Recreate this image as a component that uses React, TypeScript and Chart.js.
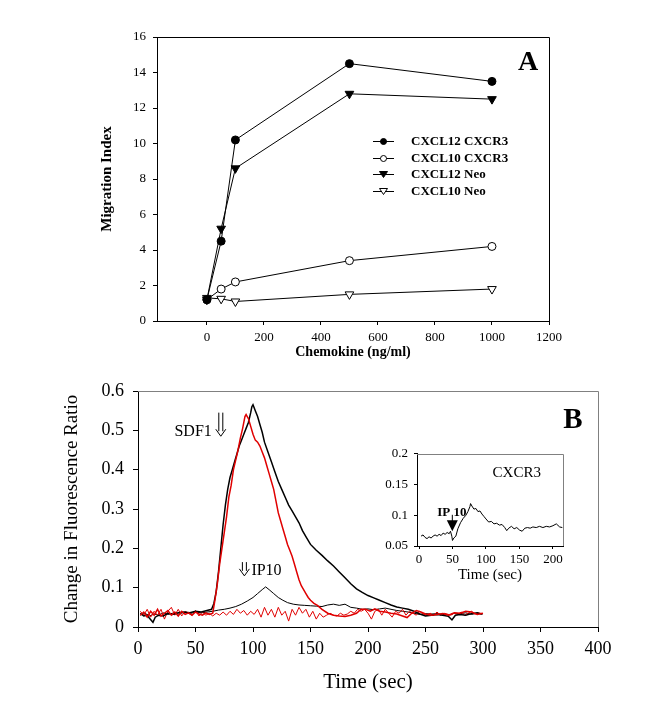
import { useEffect, useRef } from "react";
import { Chart, registerables } from "chart.js";
Chart.register(...registerables);

const FONT = "'Liberation Serif', 'Times New Roman', serif";

// ---------- Panel A ----------
const concentrations = [0, 50, 100, 500, 1000];
const cxcl12Cxcr3 = [1.2, 4.5, 10.2, 14.5, 13.5];
const cxcl10Cxcr3 = [1.2, 1.8, 2.2, 3.4, 4.2];
const cxcl12Neo = [1.2, 5.2, 8.6, 12.8, 12.5];
const cxcl10Neo = [1.3, 1.25, 1.1, 1.5, 1.8];
const legendLabelsA = ["CXCL12 CXCR3", "CXCL10 CXCR3", "CXCL12 Neo", "CXCL10 Neo"];
const xTicksA = [0, 200, 400, 600, 800, 1000, 1200];

// ---------- Panel B ----------
const sdf1BlackT = [2, 5, 8, 10, 13, 15, 18, 22, 26, 30, 35, 40, 45, 50, 55, 60, 64, 66, 68, 70, 72, 74, 76, 78, 80, 82, 84, 86, 88, 90, 92, 94, 96, 98, 99, 100, 102, 104, 106, 108, 110, 113, 116, 119, 122, 125, 128, 131, 134, 137, 140, 143, 146, 150, 155, 160, 165, 170, 175, 180, 185, 190, 195, 200, 205, 210, 215, 220, 225, 230, 235, 240, 245, 250, 255, 260, 265, 270, 273, 276, 280, 285, 290, 295, 299];
const sdf1BlackV = [0.035, 0.028, 0.03, 0.022, 0.012, 0.025, 0.03, 0.028, 0.035, 0.032, 0.036, 0.038, 0.036, 0.04, 0.038, 0.042, 0.045, 0.06, 0.09, 0.14, 0.2, 0.26, 0.31, 0.35, 0.38, 0.4, 0.42, 0.44, 0.46, 0.475, 0.49, 0.505, 0.52, 0.545, 0.56, 0.565, 0.55, 0.535, 0.515, 0.495, 0.47, 0.445, 0.42, 0.395, 0.37, 0.35, 0.33, 0.31, 0.295, 0.28, 0.265, 0.245, 0.23, 0.21, 0.195, 0.182, 0.168, 0.155, 0.14, 0.125, 0.11, 0.097, 0.088, 0.08, 0.074, 0.068, 0.062, 0.056, 0.051, 0.048, 0.045, 0.04, 0.033, 0.028, 0.03, 0.032, 0.03, 0.027, 0.018, 0.03, 0.032, 0.03, 0.034, 0.036, 0.032];

const sdf1RedT = [2, 5, 8, 11, 14, 17, 20, 23, 26, 29, 32, 35, 38, 41, 44, 47, 50, 53, 56, 59, 62, 65, 67, 69, 71, 73, 75, 77, 79, 81, 83, 85, 87, 89, 91, 93, 94, 95, 96, 98, 100, 102, 104, 106, 108, 110, 112, 114, 116, 118, 120, 122, 124, 126, 128, 130, 132, 134, 136, 138, 140, 142, 144, 146, 148, 150, 153, 156, 160, 165, 170, 175, 180, 185, 190, 194, 198, 202, 206, 210, 215, 220, 225, 230, 234, 238, 242, 246, 250, 255, 260, 265, 270, 275, 280, 285, 290, 295, 300];
const sdf1RedV = [0.03, 0.038, 0.025, 0.04, 0.03, 0.045, 0.028, 0.035, 0.042, 0.03, 0.038, 0.028, 0.04, 0.032, 0.036, 0.03, 0.038, 0.033, 0.03, 0.036, 0.032, 0.035, 0.07, 0.11, 0.16, 0.2, 0.24, 0.28, 0.33, 0.36, 0.4, 0.425, 0.45, 0.48, 0.505, 0.535, 0.54, 0.535, 0.53, 0.51, 0.49, 0.475, 0.47, 0.46, 0.445, 0.43, 0.41, 0.39, 0.37, 0.35, 0.32, 0.29, 0.27, 0.25, 0.23, 0.21, 0.195, 0.18, 0.16, 0.14, 0.12, 0.105, 0.095, 0.085, 0.075, 0.068, 0.06, 0.055, 0.045, 0.035, 0.03, 0.028, 0.027, 0.03, 0.035, 0.045, 0.045, 0.04, 0.046, 0.04, 0.038, 0.035, 0.033, 0.028, 0.024, 0.035, 0.042, 0.038, 0.033, 0.03, 0.032, 0.034, 0.03, 0.036, 0.035, 0.04, 0.038, 0.032, 0.035];

const ip10BlackT = [2, 6, 10, 14, 18, 22, 26, 30, 35, 40, 45, 50, 55, 60, 65, 70, 75, 80, 85, 90, 95, 100, 104, 108, 111, 114, 118, 122, 126, 130, 135, 140, 145, 150, 155, 160, 165, 170, 175, 180, 185, 190, 195, 200, 205, 210, 215, 220, 225, 230, 235, 240, 245, 250, 255, 260, 265, 270, 275, 280, 285, 290, 295, 300];
const ip10BlackV = [0.03, 0.035, 0.028, 0.033, 0.03, 0.036, 0.032, 0.035, 0.033, 0.037, 0.034, 0.038, 0.036, 0.038, 0.04, 0.043, 0.045, 0.048, 0.052, 0.058, 0.066, 0.075, 0.085, 0.095, 0.102, 0.095, 0.085, 0.075, 0.068, 0.062, 0.058, 0.056, 0.055, 0.054, 0.053, 0.052, 0.056, 0.058, 0.055, 0.058, 0.05, 0.048, 0.045, 0.046, 0.044, 0.046, 0.048, 0.045, 0.042, 0.04, 0.038, 0.035, 0.032, 0.034, 0.033, 0.034, 0.032, 0.03, 0.035, 0.034, 0.036, 0.032, 0.035, 0.033];

const ip10RedT = [2, 5, 8, 11, 14, 17, 20, 23, 26, 29, 32, 35, 38, 41, 44, 47, 50, 53, 56, 59, 62, 65, 68, 71, 74, 77, 80, 83, 86, 89, 92, 95, 98, 101, 104, 107, 110, 113, 116, 119, 122, 125, 128, 131, 134, 137, 140, 143, 146, 149, 152, 155, 158, 161, 164, 167, 170, 173, 176, 179, 182, 185, 188, 191, 194, 197, 200, 203, 206, 209, 212, 215, 218, 221, 224, 227, 230, 233, 236, 239, 242, 245, 248, 251, 254, 257, 260, 263, 266, 269, 272, 275, 278, 281, 284, 287, 290, 293, 296, 300];
const ip10RedV = [0.04, 0.03, 0.045, 0.025, 0.04, 0.03, 0.045, 0.02, 0.04, 0.05, 0.03, 0.045, 0.028, 0.04, 0.035, 0.03, 0.042, 0.028, 0.038, 0.03, 0.035, 0.028, 0.035, 0.03, 0.038, 0.03, 0.04, 0.032, 0.045, 0.035, 0.042, 0.03, 0.04, 0.032, 0.045, 0.025, 0.05, 0.03, 0.045, 0.025, 0.05, 0.03, 0.04, 0.015, 0.045, 0.03, 0.05, 0.035, 0.045, 0.025, 0.04, 0.02, 0.035, 0.025, 0.03, 0.035, 0.03, 0.028, 0.035, 0.03, 0.033, 0.04, 0.035, 0.045, 0.04, 0.045, 0.035, 0.02, 0.04, 0.045, 0.03, 0.045, 0.035, 0.025, 0.04, 0.035, 0.045, 0.03, 0.04, 0.035, 0.03, 0.04, 0.033, 0.03, 0.035, 0.03, 0.038, 0.03, 0.035, 0.033, 0.03, 0.035, 0.032, 0.038, 0.03, 0.035, 0.04, 0.033, 0.036, 0.034];

const sdf1Arrow = { t: 72, top: 0.545, bottom: 0.485 };
const ip10Arrow = { t: 92.5, top: 0.165, bottom: 0.13 };

// ---------- Inset ----------
const insetT = [3, 6, 9, 12, 15, 18, 21, 24, 27, 30, 33, 36, 39, 42, 45, 47, 49, 50, 52, 55, 58, 62, 66, 70, 73, 76, 77, 79, 82, 85, 88, 91, 94, 97, 100, 104, 108, 112, 116, 120, 124, 128, 131, 134, 138, 142, 146, 150, 154, 158, 162, 166, 170, 175, 180, 185, 190, 195, 200, 205, 210, 214];
const insetV = [0.066, 0.068, 0.064, 0.062, 0.065, 0.063, 0.066, 0.068, 0.066, 0.069, 0.067, 0.071, 0.069, 0.072, 0.07, 0.074, 0.066, 0.059, 0.063, 0.066, 0.078, 0.088, 0.095, 0.1, 0.106, 0.114, 0.119, 0.115, 0.11, 0.111, 0.106, 0.107, 0.102, 0.098, 0.094, 0.089, 0.09, 0.086, 0.087, 0.084, 0.085, 0.08, 0.075, 0.079, 0.082, 0.078, 0.08, 0.076, 0.074, 0.079, 0.08, 0.079, 0.081, 0.08, 0.082, 0.08, 0.082, 0.081, 0.083, 0.086, 0.081, 0.08];
const insetXTicks = [0, 50, 100, 150, 200];
const insetYTicks = [0.05, 0.1, 0.15, 0.2];
const insetArrow = { t: 49, y: 0.0836, labelY: 0.104 };

const zip = (xs: number[], ys: number[]) => xs.map((x, i) => ({ x, y: ys[i] }));

const axisCommon = (fontSize: number, tickLen: number, pad: number) => ({
  grid: { drawOnChartArea: false, drawTicks: true, tickLength: tickLen, color: "#000", lineWidth: 1 },
  border: { display: true, color: "#000", width: 1 },
  ticks: { color: "#000", font: { family: FONT, size: fontSize }, padding: pad, maxRotation: 0, autoSkip: false },
});

const framePlugin = (color: string) => ({
  id: "frame",
  beforeDatasetsDraw(chart: any) {
    const { ctx, chartArea } = chart;
    const { left, top, right, bottom } = chartArea;
    ctx.save();
    ctx.strokeStyle = color;
    ctx.lineWidth = 1;
    ctx.beginPath();
    ctx.moveTo(left, Math.round(top) + 0.5);
    ctx.lineTo(Math.round(right) + 0.5, Math.round(top) + 0.5);
    ctx.lineTo(Math.round(right) + 0.5, bottom);
    ctx.stroke();
    ctx.restore();
  },
});

function drawMarker(ctx: CanvasRenderingContext2D, style: string, x: number, y: number, r: number, fill: string) {
  ctx.save();
  ctx.beginPath();
  if (style === "circle") {
    ctx.arc(x, y, r, 0, Math.PI * 2);
  } else {
    const h = r * 1.5;
    ctx.moveTo(x - r, y - h / 2);
    ctx.lineTo(x + r, y - h / 2);
    ctx.lineTo(x, y + h / 2);
    ctx.closePath();
  }
  ctx.fillStyle = fill;
  ctx.fill();
  ctx.strokeStyle = "#000";
  ctx.lineWidth = 1;
  ctx.stroke();
  ctx.restore();
}

function makeA(canvas: HTMLCanvasElement) {
  const styles = [
    { style: "circle", fill: "#000", rot: 0 },
    { style: "circle", fill: "#fff", rot: 0 },
    { style: "triangle", fill: "#000", rot: 180 },
    { style: "triangle", fill: "#fff", rot: 180 },
  ];
  const values = [cxcl12Cxcr3, cxcl10Cxcr3, cxcl12Neo, cxcl10Neo];
  const datasets = values.map((v, i) => ({
    label: legendLabelsA[i],
    data: zip(concentrations, v),
    borderColor: "#000",
    borderWidth: 1,
    pointStyle: styles[i].style,
    pointRotation: styles[i].rot,
    pointRadius: styles[i].style === "circle" ? 4 : 5,
    pointBackgroundColor: styles[i].fill,
    pointBorderColor: "#000",
    pointBorderWidth: 1,
    tension: 0,
  }));
  const legendPlugin = {
    id: "legendA",
    afterDraw(chart: any) {
      const { ctx, chartArea } = chart;
      const x0 = chartArea.left + 216;
      const y0 = chartArea.top + 104;
      ctx.save();
      ctx.font = `bold 13px ${FONT}`;
      ctx.textBaseline = "middle";
      ctx.fillStyle = "#000";
      legendLabelsA.forEach((lab, i) => {
        const y = y0 + i * 16.5;
        ctx.strokeStyle = "#000";
        ctx.lineWidth = 1;
        ctx.beginPath();
        ctx.moveTo(x0, Math.round(y) + 0.5);
        ctx.lineTo(x0 + 21, Math.round(y) + 0.5);
        ctx.stroke();
        drawMarker(ctx, styles[i].style, x0 + 10.5, Math.round(y) + 0.5, styles[i].style === "circle" ? 3 : 4, styles[i].fill);
        ctx.fillText(lab, x0 + 38, y + 1);
      });
      ctx.font = `bold 28px ${FONT}`;
      ctx.textAlign = "center";
      ctx.fillText("A", chartArea.right - 21, chartArea.top + 26);
      ctx.restore();
    },
  };
  return new Chart(canvas, {
    type: "line",
    data: { datasets: datasets as any },
    options: {
      responsive: false,
      animation: false,
      layout: { padding: { left: 0, top: 37, right: 112, bottom: 0 } },
      plugins: { legend: { display: false }, tooltip: { enabled: false } },
      scales: {
        x: {
          type: "linear",
          min: -175,
          max: 1200,
          ...axisCommon(13, 4, 5),
          ticks: { ...axisCommon(13, 4, 5).ticks, callback: (v: any) => String(v) },
          afterBuildTicks: (s: any) => { s.ticks = xTicksA.map((v) => ({ value: v })); },
          afterFit: (s: any) => { s.height = 49; },
          title: { display: true, text: "Chemokine (ng/ml)", color: "#000", font: { family: FONT, size: 14, weight: "bold" }, padding: { top: 0, bottom: 9 } },
        },
        y: {
          type: "linear",
          min: 0,
          max: 16,
          ...axisCommon(13, 4, 7),
          ticks: { ...axisCommon(13, 4, 7).ticks, stepSize: 2 },
          afterFit: (s: any) => { s.width = 157; },
          title: { display: true, text: "Migration Index", color: "#000", font: { family: FONT, size: 15, weight: "bold" }, padding: { top: 98, bottom: 0 } },
        },
      },
    } as any,
    plugins: [framePlugin("#000"), legendPlugin],
  });
}

function drawDoubleArrow(ctx: CanvasRenderingContext2D, x: number, yTop: number, yBot: number) {
  ctx.save();
  ctx.strokeStyle = "#000";
  ctx.lineWidth = 1;
  ctx.beginPath();
  ctx.moveTo(x - 2, yTop);
  ctx.lineTo(x - 2, yBot - 5);
  ctx.moveTo(x + 2, yTop);
  ctx.lineTo(x + 2, yBot - 5);
  ctx.moveTo(x - 5, yBot - 7);
  ctx.lineTo(x, yBot);
  ctx.lineTo(x + 5, yBot - 7);
  ctx.stroke();
  ctx.restore();
}

function makeB(canvas: HTMLCanvasElement) {
  const ds = (label: string, t: number[], v: number[], color: string, w: number) => ({
    label, data: zip(t, v), borderColor: color, borderWidth: w, pointRadius: 0, tension: 0, fill: false,
  });
  const annot = {
    id: "annotB",
    afterDraw(chart: any) {
      const { ctx, scales, chartArea } = chart;
      const xs = scales.x, ys = scales.y;
      ctx.save();
      ctx.fillStyle = "#000";
      ctx.font = `16px ${FONT}`;
      ctx.textBaseline = "middle";
      const ax = xs.getPixelForValue(sdf1Arrow.t);
      drawDoubleArrow(ctx, ax, ys.getPixelForValue(sdf1Arrow.top), ys.getPixelForValue(sdf1Arrow.bottom));
      ctx.textAlign = "right";
      ctx.fillText("SDF1", ax - 9, ys.getPixelForValue(sdf1Arrow.bottom) - 4);
      const bx = xs.getPixelForValue(ip10Arrow.t);
      drawDoubleArrow(ctx, bx, ys.getPixelForValue(ip10Arrow.top), ys.getPixelForValue(ip10Arrow.bottom));
      ctx.textAlign = "left";
      ctx.fillText("IP10", bx + 7, ys.getPixelForValue(ip10Arrow.bottom) - 5);
      ctx.font = `bold 29px ${FONT}`;
      ctx.textAlign = "center";
      ctx.fillText("B", chartArea.right - 25, chartArea.top + 30);
      ctx.restore();
    },
  };
  return new Chart(canvas, {
    type: "line",
    data: {
      datasets: [
        ds("SDF1 (red)", sdf1RedT, sdf1RedV, "#e00000", 1.5),
        ds("SDF1", sdf1BlackT, sdf1BlackV, "#000", 1.5),
        ds("IP10 (red)", ip10RedT, ip10RedV, "#e00000", 1),
        ds("IP10", ip10BlackT, ip10BlackV, "#000", 1),
      ] as any,
    },
    options: {
      responsive: false,
      animation: false,
      layout: { padding: { left: 0, top: 21, right: 63, bottom: 0 } },
      plugins: { legend: { display: false }, tooltip: { enabled: false } },
      scales: {
        x: {
          type: "linear",
          min: 0,
          max: 400,
          ...axisCommon(18, 5, 6),
          ticks: { ...axisCommon(18, 5, 6).ticks, stepSize: 50 },
          afterFit: (s: any) => { s.height = 93; },
          title: { display: true, text: "Time (sec)", color: "#000", font: { family: FONT, size: 21 }, padding: { top: 0, bottom: 25 } },
        },
        y: {
          type: "linear",
          min: 0,
          max: 0.6,
          ...axisCommon(18, 5, 9),
          ticks: { ...axisCommon(18, 5, 9).ticks, stepSize: 0.1, callback: (v: any) => (Math.abs(v) < 1e-9 ? "0" : Number(v).toFixed(1)) },
          afterFit: (s: any) => { s.width = 138; },
          title: { display: true, text: "Change in Fluorescence Ratio", color: "#000", font: { family: FONT, size: 19 }, padding: { top: 61, bottom: 0 } },
        },
      },
    } as any,
    plugins: [framePlugin("#808080"), annot],
  });
}

function makeInset(canvas: HTMLCanvasElement) {
  const annot = {
    id: "annotInset",
    afterDraw(chart: any) {
      const { ctx, scales } = chart;
      const xs = scales.x, ys = scales.y;
      ctx.save();
      ctx.fillStyle = "#000";
      ctx.textBaseline = "middle";
      ctx.textAlign = "center";
      ctx.font = `15px ${FONT}`;
      ctx.fillText("CXCR3", xs.getPixelForValue(146), ys.getPixelForValue(0.168));
      const x = xs.getPixelForValue(insetArrow.t);
      const y = ys.getPixelForValue(insetArrow.y);
      const ly = ys.getPixelForValue(insetArrow.labelY);
      ctx.font = `bold 13px ${FONT}`;
      ctx.fillText("IP 10", x, ly);
      ctx.strokeStyle = "#000";
      ctx.lineWidth = 1;
      ctx.beginPath();
      ctx.moveTo(x + 0.5, ly + 2);
      ctx.lineTo(x + 0.5, y - 4);
      ctx.stroke();
      ctx.beginPath();
      ctx.moveTo(x - 5, y - 5);
      ctx.lineTo(x + 6, y - 5);
      ctx.lineTo(x + 0.5, y + 6);
      ctx.closePath();
      ctx.fill();
      ctx.restore();
    },
  };
  return new Chart(canvas, {
    type: "line",
    data: { datasets: [{ label: "CXCR3", data: zip(insetT, insetV), borderColor: "#000", borderWidth: 1, pointRadius: 0, tension: 0 }] as any },
    options: {
      responsive: false,
      animation: false,
      layout: { padding: { left: 0, top: 8, right: 12, bottom: 0 } },
      plugins: { legend: { display: false }, tooltip: { enabled: false } },
      scales: {
        x: {
          type: "linear",
          min: -3,
          max: 215,
          ...axisCommon(13, 3, 3),
          afterBuildTicks: (s: any) => { s.ticks = insetXTicks.map((v) => ({ value: v })); },
          afterFit: (s: any) => { s.height = 44; },
          title: { display: true, text: "Time (sec)", color: "#000", font: { family: FONT, size: 15 }, padding: { top: 0, bottom: 6 } },
        },
        y: {
          type: "linear",
          min: 0.05,
          max: 0.2,
          ...axisCommon(13, 3, 6),
          ticks: { ...axisCommon(13, 3, 6).ticks, callback: (v: any) => String(Number(Number(v).toFixed(2))) },
          afterBuildTicks: (s: any) => { s.ticks = insetYTicks.map((v) => ({ value: v })); },
          afterFit: (s: any) => { s.width = 57; },
        },
      },
    } as any,
    plugins: [framePlugin("#808080"), annot],
  });
}

export default function App() {
  const refA = useRef<HTMLCanvasElement>(null);
  const refB = useRef<HTMLCanvasElement>(null);
  const refC = useRef<HTMLCanvasElement>(null);
  useEffect(() => {
    const charts = [makeA(refA.current!), makeB(refB.current!), makeInset(refC.current!)];
    return () => charts.forEach((c) => c.destroy());
  }, []);
  return (
    <div style={{ position: "fixed", left: 0, top: 0, width: 661, height: 720, background: "#fff" }}>
      <canvas ref={refA} width={661} height={370} style={{ position: "absolute", left: 0, top: 0, width: 661, height: 370 }} />
      <canvas ref={refB} width={661} height={350} style={{ position: "absolute", left: 0, top: 370, width: 661, height: 350 }} />
      <canvas ref={refC} width={215} height={150} style={{ position: "absolute", left: 360, top: 440, width: 215, height: 150 }} />
    </div>
  );
}
